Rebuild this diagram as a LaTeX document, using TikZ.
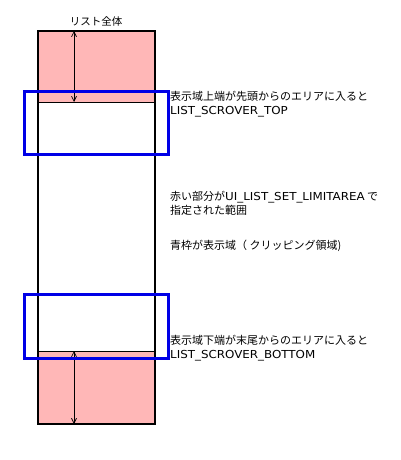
\documentclass[tikz,border=0pt]{standalone}
\usepackage{fontspec}
\setmainfont{Noto Sans CJK JP}
\newfontfamily\latinf[FakeStretch=1.08]{DejaVu Sans}
\newcommand{\lt}[1]{{\latinf #1}}
\usetikzlibrary{arrows.meta}
\definecolor{pinkarea}{RGB}{255,183,183}
\definecolor{clipblue}{RGB}{0,0,230}
\tikzset{
  lbl/.style={anchor=west,inner sep=0pt,font=\fontsize{11}{14}\selectfont,align=left},
  frame/.style={draw=black,line width=2.4pt},
  limitline/.style={draw=black,line width=0.8pt},
  viewbox/.style={draw=clipblue,line width=3pt},
  dim/.style={draw=black,line width=0.7pt,{Straight Barb[length=5pt,width=5pt]}-{Straight Barb[length=5pt,width=5pt]}}
}
\begin{document}
\begin{tikzpicture}[x=1pt,y=-1pt]
\useasboundingbox (0,0) rectangle (400,460);
% pink limit areas
\fill[pinkarea] (38,31) rectangle (155,102);
\fill[pinkarea] (38,351) rectangle (155,424);
\draw[limitline] (38,102) -- (155,102);
\draw[limitline] (38,351) -- (155,351);
% list frame
\draw[frame] (38,31) rectangle (155,424);
% dimension arrows
\coordinate (t1) at (74,31);
\coordinate (t2) at (74,102);
\coordinate (b1) at (74,351);
\coordinate (b2) at (74,424);
\draw[dim] (t1) -- (t2);
\draw[dim] (b1) -- (b2);
% view rectangles
\draw[viewbox] (24.5,91.5) rectangle (168,154.5);
\draw[viewbox] (24.5,294.5) rectangle (168,358);
% labels
\node[anchor=center,inner sep=0pt,font=\fontsize{10.5}{13}\selectfont] (title) at (96,21) {リスト全体};
\node[lbl] (toptxt) at (170,104) {表示域上端が先頭からのエリアに入ると\\\lt{LIST\_SCROVER\_TOP}};
\node[lbl] (redtxt) at (170,203) {赤い部分が\lt{UI\_LIST\_SET\_LIMITAREA} で\\指定された範囲};
\node[lbl] (bluetxt) at (170,246) {青枠が表示域（ クリッピング領域)};
\node[lbl] (bottxt) at (170,348) {表示域下端が末尾からのエリアに入ると\\\lt{LIST\_SCROVER\_BOTTOM}};
\end{tikzpicture}
\end{document}
